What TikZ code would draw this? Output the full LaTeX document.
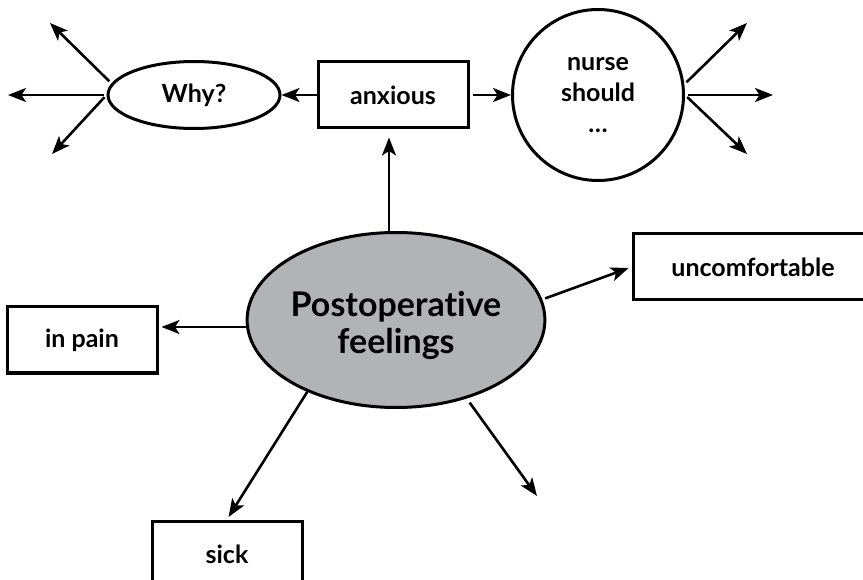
\documentclass[tikz,border=0pt]{standalone}
\usepackage{fontspec}
\setmainfont{Lato}[Ligatures=NoCommon]
\usetikzlibrary{shapes.geometric,arrows.meta}

\definecolor{feelgray}{RGB}{178,179,181}

\tikzset{
	arr/.style={line width=2.6pt,-{Stealth[length=18pt,width=14pt,inset=4.5pt]}},
	labelbox/.style={draw,line width=3pt,minimum width=150pt,minimum height=66pt,inner sep=0pt,font=\fontsize{25}{30}\selectfont\bfseries},
	oval/.style={ellipse,draw,line width=3pt,inner sep=0pt,align=center},
}

\begin{document}
\begin{tikzpicture}[x=1pt,y=-1pt]

	\useasboundingbox (0,0) rectangle (863,580);

	% top row
	\node [oval, minimum width=172pt, minimum height=67pt, font=\fontsize{25}{30}\selectfont\bfseries] (why) at (194,95) {Why?};
	\node [labelbox] (anx) at (393,95) {anxious};
	\node [circle, draw, line width=3pt, minimum size=171pt, inner sep=0pt, align=center, font=\fontsize{25}{31}\selectfont\bfseries] (nurse) at (598,95) {nurse\\should\\\ldots};

	% centre and the feelings round it
	\node [oval, fill=feelgray, minimum width=294pt, minimum height=175pt, font=\fontsize{34}{37}\selectfont\bfseries] (feel) at (396,320) {\rule{0pt}{36pt}Postoperat{}ive\\feelings};
	\node [labelbox] (pain) at (82,340) {in pain};
	\node [labelbox, minimum width=300pt] (unc) at (783,267) {\hspace*{-60pt}uncomfortable};
	\node [labelbox] (sick) at (227,554) {sick};

	\coordinate (whyA) at (50,23);
	\coordinate (whyB) at (8,95);
	\coordinate (whyC) at (52,154);
	\coordinate (nurA) at (747,23);
	\coordinate (nurB) at (773,95);
	\coordinate (nurC) at (747,154);
	\coordinate (feelA) at (537,496);

	\draw [arr] (anx) -- (why);
	\draw [arr, shorten <=3pt] (anx) -- (nurse);
	\draw [arr, shorten >=8pt] ([xshift=-7pt]feel.north) -- ([xshift=-4pt]anx.south);
	\draw [arr, shorten >=3pt] ([yshift=-7pt]feel.west) -- ([yshift=13pt]pain.east);
	\draw [arr, shorten <=3pt, shorten >=3pt] (feel.8) -- (unc.west);
	\draw [arr, shorten >=3pt] (feel.219) -- (sick.north);
	\draw [arr, shorten <=5pt] (feel.312) -- (feelA);

	\foreach \s/\t in {why.172/whyA, why.west/whyB, why.west/whyC, nurse.7/nurA, nurse.east/nurB, nurse.east/nurC}
		\draw [arr, shorten <=3pt] (\s) -- (\t);

\end{tikzpicture}
\end{document}
